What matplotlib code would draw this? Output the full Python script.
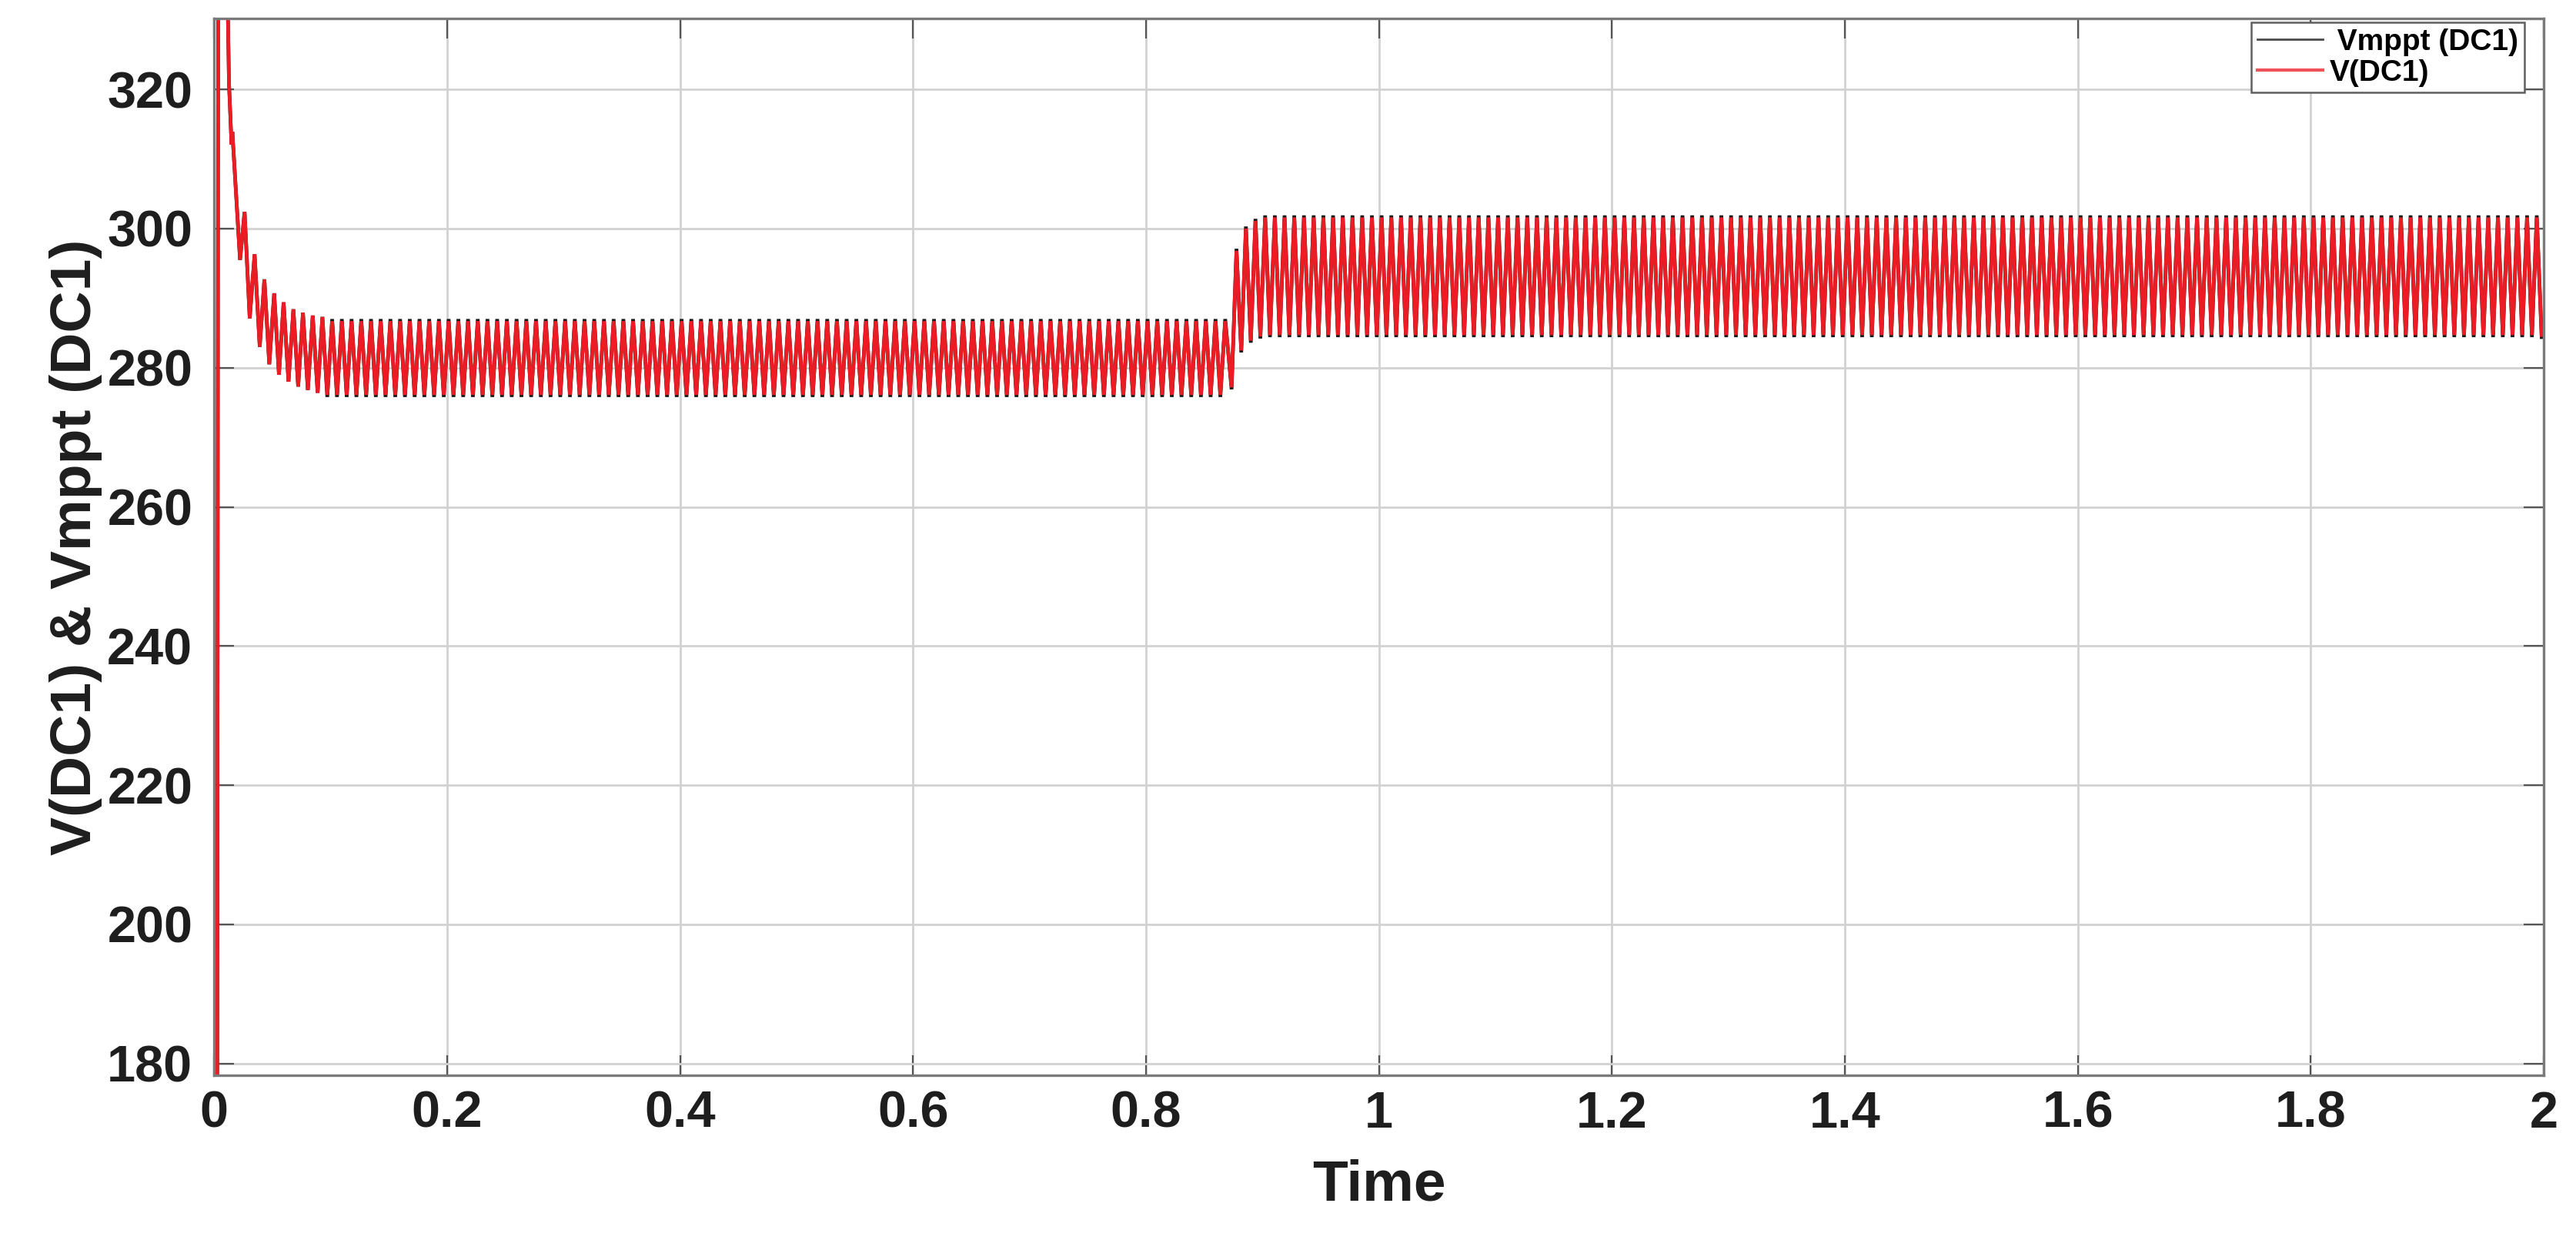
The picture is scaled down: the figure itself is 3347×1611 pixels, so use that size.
import numpy as np
import matplotlib
matplotlib.use("Agg")
import matplotlib.pyplot as plt

# ---------------- data ----------------
# start-up transient of V(DC1): times [s] and voltages [V]
start_t = [0.0, 0.0026, 0.0036, 0.0075, 0.0112, 0.0128, 0.0150, 0.0157,
           0.0223, 0.0262, 0.0306, 0.0348, 0.0392, 0.0432, 0.0474, 0.0516,
           0.0557, 0.0597, 0.0639, 0.0681, 0.0722, 0.0763, 0.0805, 0.0847,
           0.0889, 0.0930]
start_v = [0.0, 160.0, 345.0, 370.0, 338.0, 321.0, 312.1, 313.9,
           295.5, 302.4, 287.1, 296.3, 283.0, 292.7, 280.5, 290.7,
           279.0, 289.4, 278.0, 288.4, 277.3, 287.9, 276.8, 287.5,
           276.4, 287.3]

# ripple frequency of the DC-link voltage
ripple_hz = 120.0

# first steady segment (before the irradiance step)
seg1_t = [0.0972, 0.8700]
seg1_trough = 276.1
seg1_peak = 286.7

# transition at the step
step_t = [0.8735, 0.8777, 0.8818, 0.8858, 0.8900, 0.8940, 0.8982]
step_v = [277.2, 296.8, 282.5, 300.0, 283.9, 301.1, 284.5]

# second steady segment (after the step)
seg2_t = [0.9023, 2.0005]
seg2_peak = 301.6
seg2_trough = 284.7

# Vmppt reference tips stick out slightly beyond V(DC1)
vmppt_tip_extra = 0.3

x_ticks = [0, 0.2, 0.4, 0.6, 0.8, 1.0, 1.2, 1.4, 1.6, 1.8, 2.0]
x_tick_labels = ["0", "0.2", "0.4", "0.6", "0.8", "1", "1.2", "1.4", "1.6", "1.8", "2"]
y_ticks = [180, 200, 220, 240, 260, 280, 300, 320]
y_tick_labels = [str(v) for v in y_ticks]

x_label = "Time"
y_label = "V(DC1) & Vmppt (DC1)"
legend_labels = [" Vmppt (DC1)", "V(DC1)"]


def ripple(span, first, second):
    half = 0.5 / ripple_hz
    tt = np.arange(span[0], span[1], half)
    vv = np.resize(np.array([first, second], dtype=float), tt.size)
    return tt, vv


def build(extra):
    t1, v1 = ripple(seg1_t, seg1_trough - extra, seg1_peak + extra)
    t2, v2 = ripple(seg2_t, seg2_peak + extra, seg2_trough - extra)
    sv = np.array(step_v)
    sv = np.where(np.arange(sv.size) % 2 == 0, sv - extra, sv + extra)
    t = np.concatenate([start_t, t1, step_t, t2])
    v = np.concatenate([start_v, v1, sv, v2])
    return t, v


t_vdc, v_vdc = build(0.0)
t_ref, v_ref = build(vmppt_tip_extra)

# ---------------- figure ----------------
plt.rcParams['font.family'] = ['Liberation Sans', 'DejaVu Sans']
plt.rcParams['font.weight'] = 'bold'

fig = plt.figure(figsize=(33.47, 16.11), dpi=100)
ax = fig.add_axes([0.0831, 0.1328, 0.9044, 0.8523])

l1, = ax.plot(t_ref, v_ref, color='#1a1a1a', lw=3.4, solid_joinstyle='miter')
l2, = ax.plot(t_vdc, v_vdc, color='#ec1c24', lw=3.4, solid_joinstyle='miter')

ax.set_xlim(0, 2)
ax.set_ylim(178.3, 330.2)
ax.set_xticks(x_ticks)
ax.set_xticklabels(x_tick_labels)
ax.set_yticks(y_ticks)
ax.set_yticklabels(y_tick_labels)

ax.grid(True, color='#d2d2d2', lw=2.0)
ax.set_axisbelow(True)
for sp in ax.spines.values():
    sp.set_color('#7a7a7a')
    sp.set_linewidth(2.4)

ax.tick_params(axis='both', which='major', direction='in', length=19, width=1.6,
               color='#555555', labelsize=48, labelcolor='#1e1e1e',
               top=True, right=True)
ax.tick_params(axis='x', pad=14)
ax.tick_params(axis='y', pad=20)
for lab in ax.get_xticklabels() + ax.get_yticklabels():
    lab.set_fontweight('bold')

ax.set_xlabel(x_label, fontsize=54, fontweight='bold', color='#1e1e1e')
ax.set_ylabel(y_label, fontsize=54, fontweight='bold', color='#1e1e1e')
ax.xaxis.set_label_coords(0.5, -0.104)
ax.xaxis.label.set_va('center')
ax.yaxis.set_label_coords(-0.0595, 0.5)
ax.yaxis.label.set_va('center')

leg = ax.legend([l1, l2], legend_labels, loc='upper right',
                bbox_to_anchor=(0.9917, 0.9964), borderaxespad=0.0,
                prop={'weight': 'bold', 'size': 28},
                handlelength=2.2, handletextpad=0.2, borderpad=0.2,
                labelspacing=0.1, fancybox=False, framealpha=1.0,
                edgecolor='#5f5f5f')
leg.get_frame().set_linewidth(1.8)
leg.legend_handles[0].set_color('#4a4a4a')
leg.legend_handles[0].set_linewidth(2.0)
leg.legend_handles[1].set_color('#f0505a')
leg.legend_handles[1].set_linewidth(3.0)

fig.savefig('out.png', dpi=100, facecolor='white')
